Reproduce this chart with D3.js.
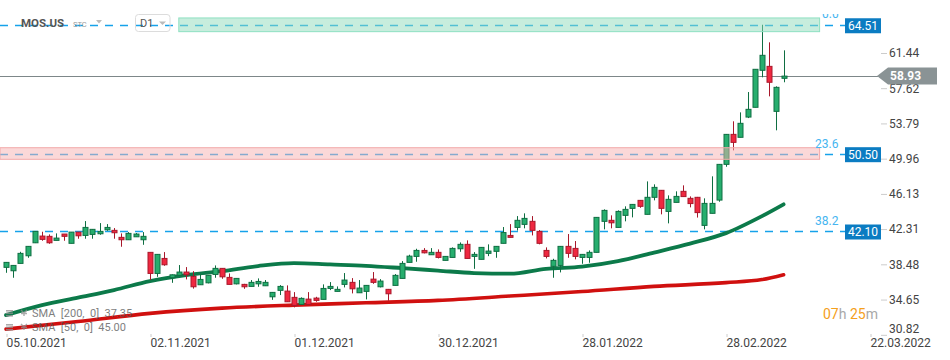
<!DOCTYPE html>
<html><head><meta charset="utf-8">
<script src="https://cdn.jsdelivr.net/npm/d3@7"></script>
<style>
body{margin:0;background:#fff;}
svg{display:block;font-family:Roboto,"Noto Sans",sans-serif;}
</style></head><body>
<svg id="chart" width="950" height="360"></svg>
<script>
// ---- data ----
const opens  = [38.15,37.78,38.58,39.41,40.82,41.55,41.52,41.08,41.77,40.76,41.98,41.62,41.73,41.80,42.23,42.17,41.41,41.15,41.47,41.15,
39.78,37.49,39.12,37.02,37.28,37.64,37.17,36.26,36.47,37.38,38.04,37.06,36.36,36.30,36.08,36.36,36.15,34.95,35.65,35.57,
34.89,34.12,34.70,34.81,34.67,35.86,35.54,36.30,36.52,35.39,35.54,36.87,36.04,35.76,36.19,36.95,38.69,39.34,39.99,39.52,
39.78,38.91,39.23,40.17,40.65,39.34,39.02,39.67,39.89,40.76,41.62,42.49,42.82,43.15,42.06,39.99,38.26,38.36,40.43,40.21,
39.23,39.23,39.78,43.15,43.26,42.49,43.80,44.56,45.43,43.91,45.76,46.52,44.23,45.21,46.41,45.65,45.76,42.71,44.02,45.46,
49.34,52.60,52.28,54.48,55.54,59.56,59.99,55.10,58.69];
const highs  = [38.72,38.40,39.84,40.46,42.09,42.02,41.73,41.84,41.77,41.98,41.98,43.18,42.31,42.96,42.85,42.42,41.84,41.98,41.88,41.98,
39.78,39.60,39.81,37.38,38.40,38.18,37.74,37.42,37.30,38.36,38.06,37.49,36.97,36.36,36.77,36.95,36.77,35.45,36.22,36.19,
35.46,34.89,35.46,34.95,36.30,36.55,36.08,37.53,36.98,36.77,36.21,37.64,36.87,35.80,37.42,38.83,39.52,40.17,40.24,40.24,
40.10,39.37,40.32,40.86,41.08,39.81,40.35,40.65,40.46,42.53,42.85,43.72,44.02,43.72,42.20,40.32,39.08,40.46,41.77,41.01,
39.60,39.99,43.60,44.45,43.80,44.34,44.78,45.02,45.46,47.49,47.17,46.55,45.97,46.41,47.06,45.86,45.80,45.65,48.04,49.37,
52.64,54.02,54.99,57.20,59.67,64.51,62.60,57.82,61.73];
const lows   = [37.56,37.02,38.58,39.19,40.79,41.04,40.71,41.08,41.04,40.76,41.26,41.26,41.26,41.69,42.12,41.26,40.39,41.15,41.47,40.60,
36.77,37.12,38.32,36.47,37.28,36.84,35.84,36.26,36.41,37.02,36.91,36.30,36.30,35.82,36.08,36.04,36.12,34.62,35.14,34.41,
33.80,34.12,34.12,34.41,34.67,35.68,35.54,35.97,35.32,35.39,34.67,36.36,35.97,34.52,36.19,36.95,38.69,38.76,39.67,39.52,
39.12,38.91,39.23,39.84,39.12,37.99,39.02,39.37,39.19,40.76,41.41,42.15,42.39,41.62,40.65,39.12,37.02,37.60,39.19,39.02,
38.54,38.65,39.78,42.28,42.39,42.49,43.15,43.58,44.62,43.91,45.43,43.91,42.93,45.21,45.84,44.67,43.56,42.28,44.02,45.28,
49.08,50.86,52.28,54.37,55.54,58.80,56.73,53.04,58.26];
const closes = [38.69,38.36,39.67,40.43,42.06,41.19,40.82,41.33,41.52,41.98,41.58,42.49,42.28,42.06,42.49,41.91,41.15,41.84,41.77,41.52,
37.49,39.56,38.43,37.34,37.64,37.34,36.04,36.84,37.28,38.04,37.12,36.30,36.95,36.04,36.52,36.62,36.52,35.43,36.08,34.41,
34.02,34.78,34.12,34.56,35.86,36.08,35.76,36.77,35.82,35.90,36.19,36.52,36.66,35.28,37.28,38.58,39.37,39.99,39.73,39.78,
39.23,39.34,40.21,40.65,39.12,39.56,40.32,39.92,40.43,41.93,41.41,43.26,43.47,42.17,40.76,39.34,38.91,40.43,39.67,39.34,
39.56,39.78,43.58,44.34,42.99,44.23,44.45,44.99,44.78,45.76,46.84,44.56,45.54,45.86,45.84,45.08,44.10,45.10,45.10,49.34,
52.60,51.73,53.80,55.32,59.67,61.19,58.26,57.71,58.93];

const sma50Idx  = [0,5,10,15,20,25,30,35,40,45,50,55,60,65,70,75,80,85,90,95,100,105,108];
const sma50Val  = [32.96,34.05,34.86,35.68,36.66,37.31,37.74,38.29,38.61,38.47,38.32,38.07,37.80,37.53,37.47,37.99,38.23,38.83,39.76,40.73,41.87,43.72,45.00];
const sma200Idx = [0,10,20,30,40,50,60,70,80,90,100,105,108];
const sma200Val = [31.44,32.26,33.15,33.72,34.05,34.30,34.56,35.03,35.52,36.08,36.49,36.82,37.35];

const dateTickIdx = [0,20,40,60,80,100,120];
const dateTickLabels = ["05.10.2021","02.11.2021","01.12.2021","30.12.2021","28.01.2022","28.02.2022","22.03.2022"];
const priceTicks = [61.44,57.62,53.79,49.96,46.13,42.31,38.48,34.65,30.82];

const fibValues = [64.51,50.50,42.10];
const fibNames  = ["0.0","23.6","38.2"];
const zoneTop    = [65.25,51.15];
const zoneBottom = [63.76,49.89];
const zoneStart  = [24,-1];
const zoneEnd    = [113,113];
const zoneFill   = ["#8fdcbc","#f7b2b2"];
const zoneStroke = ["#8fe0c2","#f2aaaa"];
const lastPrice = 58.93;
const legendTexts = ["SMA  [200,  0]  37.35","SMA  [50,  0]  45.00"];

// ---- scales ----
const svg = d3.select("#chart");
const x = d3.scaleLinear().domain([0,1]).range([6,13.2]);
const y = d3.scaleLinear().domain([30.8,67.2]).range([335,0]);
const upFill="#27ae6e", upStroke="#0f6e42", dnFill="#ef2840", dnStroke="#a8182b";

const defs = svg.append("defs");
defs.append("clipPath").attr("id","topclip").append("rect").attr("x",0).attr("y",14).attr("width",950).attr("height",340);

// fib dashed lines
const fibG = svg.append("g");
fibValues.forEach((v,i)=>{
  fibG.append("line").attr("x1",0).attr("x2",845).attr("y1",Math.round(y(v))+0.5).attr("y2",Math.round(y(v))+0.5)
    .attr("stroke","#16a2ea").attr("stroke-width",1.3).attr("stroke-dasharray","8,7");
});
// price line
svg.append("line").attr("x1",0).attr("x2",878).attr("y1",Math.round(y(lastPrice))+0.5).attr("y2",Math.round(y(lastPrice))+0.5)
  .attr("stroke","#7d8789").attr("stroke-width",1);

// SMA lines
const line = d3.line().x(d=>x(d[0])).y(d=>y(d[1])).curve(d3.curveMonotoneX);
svg.append("path").datum(sma200Idx.map((d,i)=>[d,sma200Val[i]])).attr("d",line)
  .attr("fill","none").attr("stroke","#d0100f").attr("stroke-width",3.6).attr("stroke-linecap","round");
svg.append("path").datum(sma50Idx.map((d,i)=>[d,sma50Val[i]])).attr("d",line)
  .attr("fill","none").attr("stroke","#0c7a4a").attr("stroke-width",3.8).attr("stroke-linecap","round");

// candles
const candles = d3.range(opens.length).map(i=>({i,o:opens[i],h:highs[i],l:lows[i],c:closes[i]}));
const cg = svg.append("g").selectAll("g").data(candles).join("g");
cg.append("line").attr("x1",d=>Math.round(x(d.i))+0.5).attr("x2",d=>Math.round(x(d.i))+0.5)
  .attr("y1",d=>y(d.h)).attr("y2",d=>y(d.l))
  .attr("stroke",d=>d.c>=d.o?upStroke:dnStroke).attr("stroke-width",1);
cg.append("rect").attr("x",d=>Math.round(x(d.i))-2).attr("width",5)
  .attr("y",d=>y(Math.max(d.o,d.c))).attr("height",d=>Math.max(1,Math.abs(y(d.o)-y(d.c))))
  .attr("fill",d=>d.c>=d.o?upFill:dnFill).attr("stroke",d=>d.c>=d.o?upStroke:dnStroke).attr("stroke-width",1);

// zones
zoneTop.forEach((t,i)=>{
  const x0=Math.max(0,x(zoneStart[i])), x1=x(zoneEnd[i]);
  svg.append("rect").attr("x",x0).attr("y",y(t)).attr("width",x1-x0).attr("height",y(zoneBottom[i])-y(t))
    .attr("fill",zoneFill[i]).attr("fill-opacity",0.5).attr("stroke",zoneStroke[i]).attr("stroke-width",1);
});

// fib labels
const fl = svg.append("g").attr("clip-path","url(#topclip)");
fibValues.forEach((v,i)=>{
  fl.append("text").attr("x", i===0?822:815).attr("y",i===0?y(v)-7:y(v)-6).text(fibNames[i])
    .attr("font-size",12).attr("fill","#45b5f0");
  svg.append("rect").attr("x",845).attr("y",y(v)-6.5).attr("width",36).attr("height",15).attr("fill","#0b7cc2");
  svg.append("text").attr("x",863).attr("y",y(v)+1).attr("dy","0.35em").attr("text-anchor","middle")
    .attr("font-size",12).attr("fill","#fff").text(v.toFixed(2));
});

// right axis
const ra = svg.append("g").attr("transform","translate(881,0)")
  .call(d3.axisRight(y).tickValues(priceTicks).tickSize(6).tickPadding(2).tickFormat(d3.format(".2f")));
ra.select(".domain").remove();
ra.selectAll(".tick line").attr("stroke","#ccc");
ra.selectAll(".tick text").attr("font-size",12).attr("fill","#444").attr("font-family","Roboto,sans-serif");
ra.selectAll(".tick").filter(d=>d<31).select("text").attr("dy","-0.2em");

// price tag
const py = y(lastPrice);
svg.append("path").attr("d",`M877,${py} L888,${py-8.5} L937,${py-8.5} L937,${py+8.5} L888,${py+8.5} Z`).attr("fill","#8a9395");
svg.append("text").attr("x",890).attr("y",py).attr("dy","0.36em").attr("font-size",12).attr("font-weight","bold")
  .attr("fill","#fff").text(lastPrice.toFixed(2));

// bottom axis
const ba = svg.append("g").attr("transform","translate(0,334)")
  .call(d3.axisBottom(x).tickValues(dateTickIdx).tickSize(3).tickPadding(0).tickFormat((d,i)=>dateTickLabels[i]));
ba.select(".domain").remove();
ba.selectAll(".tick line").attr("stroke","#ccc").attr("transform","translate(0.5,0)");
ba.selectAll(".tick text").attr("text-anchor","start").attr("x",0).attr("y",12.5).attr("dy",0)
  .attr("font-size",12).attr("fill","#444").attr("font-family","Roboto,sans-serif");

// timer
const tm = svg.append("text").attr("x",823).attr("y",319).attr("font-size",14);
[["07","#f5a01a"],["h ","#a8a8a8"],["25","#f5a01a"],["m","#a8a8a8"]].forEach(p=>tm.append("tspan").attr("fill",p[1]).text(p[0]));

// header
svg.append("text").attr("x",21).attr("y",27).attr("font-size",11.5).attr("font-weight","bold").attr("fill","#555").text("MOS.US");
svg.append("text").attr("x",73).attr("y",27).attr("font-size",7.5).attr("fill","#9a9a9a").text("STC");
svg.append("path").attr("d","M96,20 L102,20 L99,23.5 Z").attr("fill","#bbb");
svg.append("rect").attr("x",135.5).attr("y",14.5).attr("width",34.5).attr("height",17).attr("rx",3)
  .attr("fill","none").attr("stroke","#dcdcdc");
svg.append("text").attr("x",140).attr("y",27).attr("font-size",11).attr("fill","#555").text("D1");
svg.append("path").attr("d","M159,21.5 L166,21.5 L162.5,25 Z").attr("fill","#bbb");

// legend
legendTexts.forEach((t,i)=>{
  const ly = 313 + i*14;
  const g = svg.append("g").attr("opacity",0.75);
  [-3,-0.5,2].forEach(o=>g.append("rect").attr("x",6).attr("y",ly+o).attr("width",7).attr("height",1.6).attr("fill","#8f8f8f"));
  g.append("path").attr("d",`M21,${ly-3} L24,${ly} L27,${ly-3} M24,${ly} L24,${ly+3} M21,${ly+0.5} L27,${ly+0.5}`)
    .attr("stroke","#8f8f8f").attr("stroke-width",1.4).attr("fill","none");
  g.append("text").attr("x",32).attr("y",ly+4).attr("font-size",11).attr("fill","#555")
    .style("white-space","pre").attr("xml:space","preserve").text(t);
});
</script>
</body></html>
